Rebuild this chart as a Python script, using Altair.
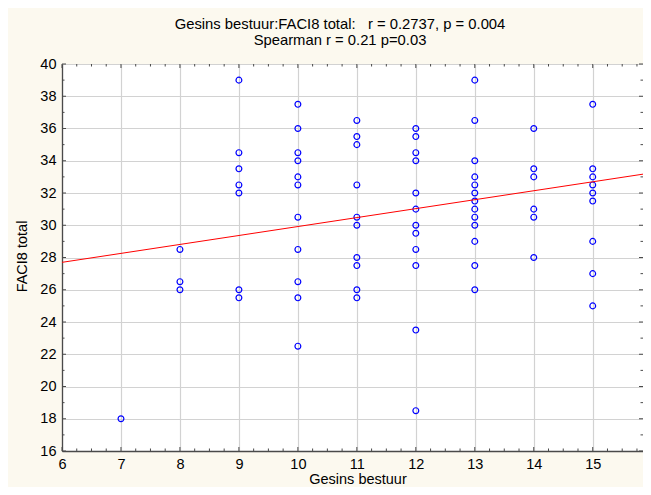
import altair as alt
import pandas as pd

# ---- data ----
col_x = [7, 8, 9, 10, 11, 12, 13, 14, 15]
y_at_7 = [18]
y_at_8 = [28.5, 26.5, 26]
y_at_9 = [39, 34.5, 33.5, 32.5, 32, 26, 25.5]
y_at_10 = [37.5, 36, 34.5, 34, 33, 32.5, 30.5, 28.5, 26.5, 25.5, 22.5]
y_at_11 = [36.5, 35.5, 35, 32.5, 30.5, 30, 28, 27.5, 26, 25.5]
y_at_12 = [36, 35.5, 34.5, 34, 32, 31, 30, 29.5, 28.5, 27.5, 23.5, 18.5]
y_at_13 = [39, 36.5, 34, 33, 32.5, 32, 31.5, 31, 30.5, 30, 29, 27.5, 26]
y_at_14 = [36, 33.5, 33, 31, 30.5, 28]
y_at_15 = [37.5, 33.5, 33, 32.5, 32, 31.5, 29, 27, 25]
col_y = [y_at_7, y_at_8, y_at_9, y_at_10, y_at_11, y_at_12, y_at_13, y_at_14, y_at_15]

# fitted line end points
fit_x = [6, 16]
fit_y = [27.7, 33.25]

x_ticks = [6, 7, 8, 9, 10, 11, 12, 13, 14, 15, 16]
y_ticks = [16, 18, 20, 22, 24, 26, 28, 30, 32, 34, 36, 38, 40]
x_minor = [t + f for t in x_ticks[:-1] for f in (0.25, 0.5, 0.75)]
y_minor = [t + 1 for t in y_ticks[:-1]]

title_lines = ["Gesins bestuur:FACI8 total:\u00a0\u00a0\u00a0r = 0.2737, p = 0.004",
               "Spearman r = 0.21 p=0.03"]
x_title = "Gesins bestuur"
y_title = "FACI8 total"

rows = [{"x": xv, "y": yv} for xv, ys in zip(col_x, col_y) for yv in ys]
df = pd.DataFrame(rows)
fit_df = pd.DataFrame({"x": fit_x, "y": fit_y})

# the reference's plot runs just past the picture's right edge: show 6 .. ~15.85
W, H = 581, 387
X_MAX = 6 + W / 58.97
FONT = "Liberation Sans"
FS = 14.5
TICKC = "#4a4a4a"

xscale = alt.Scale(domain=[6, X_MAX], nice=False, zero=False)
yscale = alt.Scale(domain=[16, 40], nice=False, zero=False)

x_axis = alt.Axis(values=x_ticks, title=x_title, grid=True, ticks=False,
                  labelPadding=6, labelOverlap=False, labelFlush=False,
                  titleX=295.5, titleY=32,
                  titleBaseline="alphabetic", titleAlign="center", format="d")
y_axis = alt.Axis(values=y_ticks, title=y_title, grid=True, ticks=False,
                  labelPadding=6, labelOverlap=False, labelFlush=False,
                  titleX=-40, titleY=192,
                  titleBaseline="middle", titleAlign="center", format="d")

points = alt.Chart(df).mark_point(shape="circle", filled=False, color="#0000ff",
                                  size=34, strokeWidth=1.2, opacity=1).encode(
    x=alt.X("x:Q", scale=xscale, axis=x_axis),
    y=alt.Y("y:Q", scale=yscale, axis=y_axis),
)

line = alt.Chart(fit_df).mark_line(color="#ff0000", strokeWidth=1, clip=True).encode(
    x=alt.X("x:Q", scale=xscale, axis=x_axis), y=alt.Y("y:Q", scale=yscale, axis=y_axis))


def xticks(vals, y0, y1):
    vals = [v for v in vals if v <= X_MAX]
    return alt.Chart(pd.DataFrame({"x": vals})).mark_rule(color=TICKC, strokeWidth=1).encode(
        x=alt.X("x:Q", scale=xscale, axis=x_axis), y=alt.value(y0), y2=alt.value(y1))


def yticks(vals, x0, x1):
    return alt.Chart(pd.DataFrame({"y": vals})).mark_rule(color=TICKC, strokeWidth=1).encode(
        y=alt.Y("y:Q", scale=yscale, axis=y_axis), x=alt.value(x0), x2=alt.value(x1))


tick_layers = [
    xticks(x_ticks, H, H - 4), xticks(x_minor, H, H - 2.5),
    xticks(x_ticks, 0, 4), xticks(x_minor, 0, 2.5),
    yticks(y_ticks, 0, 4), yticks(y_minor, 0, 2.5),
    yticks(y_ticks, W, W - 4), yticks(y_minor, W, W - 2.5),
]

chart = alt.layer(points, line, *tick_layers).properties(
    width=W, height=H,
    title=alt.TitleParams(text=title_lines, fontSize=14.8, font=FONT, fontWeight="normal",
                          color="black", anchor="middle", dx=-12.5, offset=8.5, lineHeight=15.5),
    autosize=alt.AutoSizeParams(type="none"),
    padding={"left": 54, "top": 56, "right": 0, "bottom": 36},
    background="#fcf9ef",
).configure_view(
    fill="white", stroke="#4a4a4a", strokeWidth=1
).configure_axis(
    labelFont=FONT, titleFont=FONT, labelFontSize=FS, titleFontSize=FS,
    labelColor="black", titleColor="black", titleFontWeight="normal",
    labelOverlap=False,
    gridColor="#d2d2d2", gridWidth=1.2, domainColor="#4a4a4a", domainWidth=1.3,
)

chart.save("out.html", embed_options={"renderer": "svg", "actions": False})
